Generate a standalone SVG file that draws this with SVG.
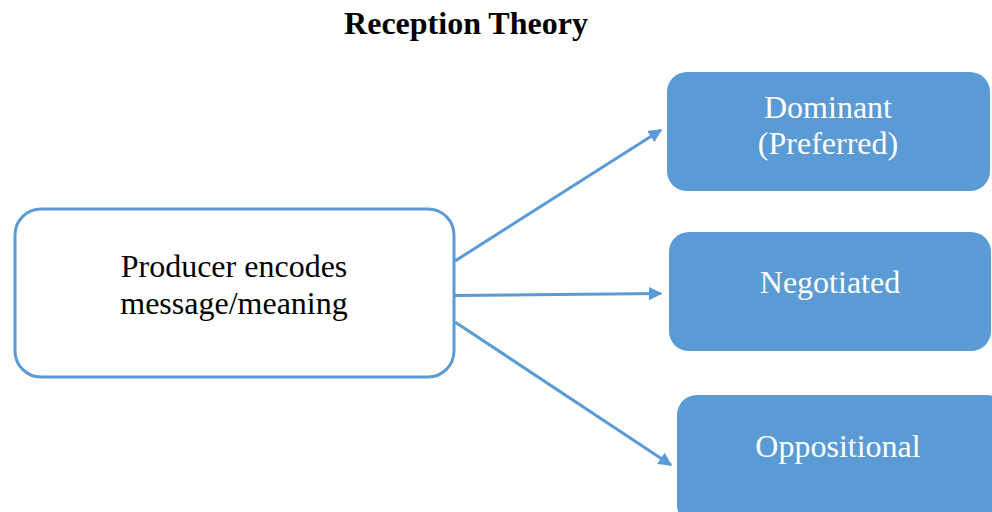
<svg xmlns="http://www.w3.org/2000/svg" width="992" height="512" viewBox="0 0 992 512">
  <style>
    text { font-family: "Liberation Serif", "Times New Roman", serif; }
    .title { font-size: 32px; font-weight: bold; fill: #000; }
    .src { fill: #fff; stroke: #5B9BD5; stroke-width: 3; }
    .src-label { font-size: 32px; fill: #000; }
    .out { fill: #5B9BD5; }
    .out-label { font-size: 32px; fill: #fff; }
    .edge { stroke: #5B9BD5; stroke-width: 3; fill: none; marker-end: url(#arrow); }
  </style>
  <defs>
    <marker id="arrow" viewBox="0 0 10 10" refX="9" refY="5" markerWidth="4.5" markerHeight="4.5" orient="auto" markerUnits="strokeWidth">
      <path d="M0,0 L10,5 L0,10 z" fill="#5B9BD5"/>
    </marker>
  </defs>
  <rect width="992" height="512" fill="#fff"/>

  <text class="title" x="466" y="34" text-anchor="middle">Reception Theory</text>

  <g id="connectors">
    <path class="edge" d="M455,261 L661,130"/>
    <path class="edge" d="M455,295.5 L661,293.5"/>
    <path class="edge" d="M455,322 L671,465"/>
  </g>

  <g id="producer">
    <rect class="src" x="15" y="209" width="439" height="168" rx="26"/>
    <text class="src-label" x="234" y="277" text-anchor="middle">Producer encodes</text>
    <text class="src-label" x="234" y="314" text-anchor="middle">message/meaning</text>
  </g>

  <g id="dominant">
    <rect class="out" x="667" y="72" width="323" height="119" rx="20"/>
    <text class="out-label" x="828" y="118" text-anchor="middle">Dominant</text>
    <text class="out-label" x="828" y="154" text-anchor="middle">(Preferred)</text>
  </g>

  <g id="negotiated">
    <rect class="out" x="669" y="232" width="322" height="119" rx="20"/>
    <text class="out-label" x="830" y="293" text-anchor="middle">Negotiated</text>
  </g>

  <g id="oppositional">
    <rect class="out" x="677" y="395" width="330" height="130" rx="20"/>
    <text class="out-label" x="838" y="457" text-anchor="middle">Oppositional</text>
  </g>
</svg>
